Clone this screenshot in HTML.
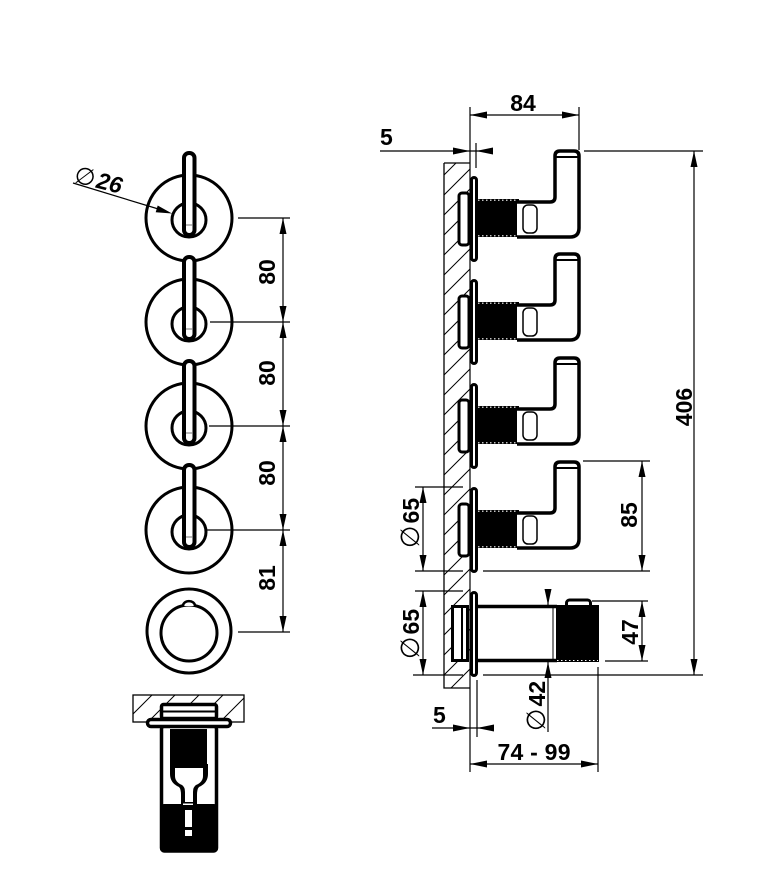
<!DOCTYPE html>
<html><head><meta charset="utf-8">
<style>
html,body{margin:0;padding:0;background:#fff;}
svg{display:block;}
text{font-family:"Liberation Sans",Arial,sans-serif;font-weight:bold;font-size:23px;fill:#000;}
.d{font-family:"DejaVu Sans","Liberation Sans",sans-serif;font-weight:normal;font-size:26px;}
.d2{font-family:"DejaVu Sans","Liberation Sans",sans-serif;font-weight:normal;font-size:24px;}
</style></head><body>
<svg width="773" height="895" viewBox="0 0 773 895" xmlns="http://www.w3.org/2000/svg">
<defs>
<clipPath id="wallR"><rect x="444" y="163" width="26" height="525"/></clipPath>
<clipPath id="wallL"><rect x="133" y="695" width="111" height="27"/></clipPath>
<g id="rose">
<circle cx="189" cy="0" r="43" fill="none" stroke="#000" stroke-width="3"/>
<circle cx="189" cy="2" r="17" fill="none" stroke="#000" stroke-width="3"/>
</g>
<g id="lever">
<rect x="184" y="-65" width="10.5" height="82" rx="5" fill="#fff" stroke="#000" stroke-width="4"/>
<path d="M186,7 H193" stroke="#777" stroke-width="1"/>
</g>
<g id="unit">
<rect x="459" y="-26" width="10" height="52" rx="3" fill="#fff" stroke="#000" stroke-width="3"/>
<rect x="471.5" y="-41.5" width="5" height="83" rx="2.5" fill="#fff" stroke="#000" stroke-width="3"/>
<rect x="478" y="-20" width="41" height="38" fill="#000"/>
<path d="M478,-18.8 H518 M478,16.8 H518" stroke="#fff" stroke-width="1.2" stroke-dasharray="1.5 2.5"/>
<path d="M517,-17 H550 Q555,-17 555,-22 V-63 Q555,-68 560,-68 H574 Q579,-68 579,-63 V9 Q579,18 570,18 H517" fill="#fff" stroke="#000" stroke-width="3.5"/>
<path d="M556,-62 H578" stroke="#000" stroke-width="2"/>
<rect x="523" y="-14" width="14" height="28" rx="5" fill="none" stroke="#000" stroke-width="1.5"/>
</g>
</defs>

<!-- LEFT FRONT VIEW -->
<use href="#rose" y="218"/>
<use href="#rose" y="322"/>
<use href="#rose" y="426"/>
<use href="#rose" y="530"/>
<circle cx="189" cy="631" r="42" fill="none" stroke="#000" stroke-width="3"/>
<circle cx="189" cy="633" r="28" fill="none" stroke="#000" stroke-width="3"/>
<path d="M183,606 C183,599.5 195,599.5 195,606" fill="#fff" stroke="#000" stroke-width="2.5"/>
<use href="#lever" y="218"/>
<use href="#lever" y="322"/>
<use href="#lever" y="426"/>
<use href="#lever" y="530"/>

<!-- left dims -->
<g stroke="#000" stroke-width="1.2" fill="none">
<path d="M283,218 V632 M238,218 H290 M210,322 H290 M209,426 H290 M207,530 H290 M238,632 H290"/>
<path d="M73,183 L160,209.5"/>
</g>
<g fill="#000">
<polygon points="283,218 279.5,234 286.5,234"/>
<polygon points="283,322 279.5,306 286.5,306"/>
<polygon points="283,322 279.5,338 286.5,338"/>
<polygon points="283,426 279.5,410 286.5,410"/>
<polygon points="283,426 279.5,442 286.5,442"/>
<polygon points="283,530 279.5,514 286.5,514"/>
<polygon points="283,530 279.5,546 286.5,546"/>
<polygon points="283,632 279.5,616 286.5,616"/>
<polygon points="172,213.5 157.7,205.5 155.7,212.2"/>
</g>
<text transform="translate(275,272) rotate(-90)" text-anchor="middle">80</text>
<text transform="translate(275,373) rotate(-90)" text-anchor="middle">80</text>
<text transform="translate(275,473) rotate(-90)" text-anchor="middle">80</text>
<text transform="translate(275,578) rotate(-90)" text-anchor="middle">81</text>
<text transform="translate(73,182) rotate(14)" font-style="italic"><tspan class="d2" font-style="normal">∅</tspan><tspan dx="2">26</tspan></text>

<!-- LEFT BOTTOM SECTION -->
<g clip-path="url(#wallL)"><path d="M102,722l27,-27 M125,722l27,-27 M148,722l27,-27 M172,722l27,-27 M196,722l27,-27 M220,722l27,-27 M244,722l27,-27" stroke="#000" stroke-width="1"/></g>
<rect x="133" y="695" width="111" height="27" fill="none" stroke="#000" stroke-width="1.3"/>
<rect x="161.5" y="704.5" width="55" height="14" rx="2" fill="#fff" stroke="#000" stroke-width="3.5"/>
<path d="M162,711.5 H216" stroke="#000" stroke-width="2"/>
<rect x="161.5" y="726" width="55" height="125" rx="3" fill="#fff" stroke="#000" stroke-width="3.5"/>
<rect x="147.5" y="719.5" width="83" height="7" rx="3.5" fill="#fff" stroke="#000" stroke-width="3.5"/>
<rect x="170" y="729" width="37" height="41" fill="#000"/>
<path d="M170,764 H208 V774 Q208,783 199,787 Q197,789 197,795 V806 H181 V795 Q181,789 179,787 Q170,783 170,774 Z" fill="#000"/>
<path d="M175,768 H203 V776 Q203,782 196,785 Q193,787 193,792 V802 H185 V792 Q185,787 182,785 Q175,782 175,776 Z" fill="#fff"/>
<rect x="160" y="804" width="58" height="48" rx="4" fill="#000"/>
<rect x="183" y="803.5" width="10" height="1.5" fill="#fff"/>
<rect x="185" y="810" width="7" height="17" fill="#fff"/>
<rect x="185" y="830" width="7" height="6" fill="#fff"/>

<!-- RIGHT SIDE VIEW: wall -->
<g clip-path="url(#wallR)"><path d="M444,175l26,-26 M444,195l26,-26 M444,215l26,-26 M444,235l26,-26 M444,255l26,-26 M444,275l26,-26 M444,295l26,-26 M444,315l26,-26 M444,335l26,-26 M444,355l26,-26 M444,375l26,-26 M444,395l26,-26 M444,415l26,-26 M444,435l26,-26 M444,455l26,-26 M444,475l26,-26 M444,495l26,-26 M444,515l26,-26 M444,535l26,-26 M444,555l26,-26 M444,575l26,-26 M444,595l26,-26 M444,615l26,-26 M444,635l26,-26 M444,655l26,-26 M444,675l26,-26 M444,695l26,-26 M444,715l26,-26" stroke="#000" stroke-width="1"/></g>
<path d="M444,163 H470 M444,163 V688 H470" fill="none" stroke="#000" stroke-width="1.3"/>

<!-- right dims lines -->
<g stroke="#000" stroke-width="1.2" fill="none">
<path d="M470,107 V772"/>
<path d="M579,107 V150 M470,115 H579"/>
<path d="M380,151 H493 M476,143 V168"/>
<path d="M584,151 H703 M694,151 V675"/>
<path d="M413,675 H463 M483,675 H703"/>
<path d="M583,461 H650 M415,571 H463 M483,571 H650 M642,461 V571"/>
<path d="M415,487 H463 M423,487 V571"/>
<path d="M415,591 H463 M423,591 V675"/>
<path d="M592,601 H648 M605,661 H648 M642,601 V661"/>
<path d="M548,589 V605 M548,662 V732"/>
<path d="M432,728 H494 M477,680 V737"/>
<path d="M470,764 H598 M598,667 V772"/>
</g>

<!-- units -->
<use href="#unit" y="219"/>
<use href="#unit" y="322"/>
<use href="#unit" y="426"/>
<use href="#unit" y="530"/>

<!-- diverter unit -->
<rect x="452.5" y="606.5" width="15" height="54" fill="#fff" stroke="#000" stroke-width="3"/>
<path d="M462,607 V660" stroke="#000" stroke-width="2"/>
<rect x="471.5" y="592.5" width="5" height="83" rx="2.5" fill="#fff" stroke="#000" stroke-width="3"/>
<rect x="478" y="606.5" width="78" height="54" fill="#fff"/>
<path d="M478,606.5 H557 M478,660.5 H557" stroke="#000" stroke-width="3.5"/>
<path d="M553,607 V660" stroke="#000" stroke-width="1"/>
<rect x="566.5" y="600" width="24" height="8" rx="3" fill="#fff" stroke="#000" stroke-width="3"/>
<rect x="556" y="605" width="43" height="57" fill="#000"/>
<path d="M557,660.5 H598" stroke="#fff" stroke-width="1" stroke-dasharray="1.5 2.5"/>

<!-- right arrows -->
<g fill="#000">
<polygon points="470,115 487,111.5 487,118.5"/>
<polygon points="579,115 562,111.5 562,118.5"/>
<polygon points="470,151 453,147.5 453,154.5"/>
<polygon points="476,151 493,147.5 493,154.5"/>
<polygon points="694,151 690.5,167 697.5,167"/>
<polygon points="694,675 690.5,659 697.5,659"/>
<polygon points="642,461 638.5,477 645.5,477"/>
<polygon points="642,571 638.5,555 645.5,555"/>
<polygon points="423,487 419.5,503 426.5,503"/>
<polygon points="423,571 419.5,555 426.5,555"/>
<polygon points="423,591 419.5,607 426.5,607"/>
<polygon points="423,675 419.5,659 426.5,659"/>
<polygon points="642,601 638.5,617 645.5,617"/>
<polygon points="642,661 638.5,645 645.5,645"/>
<polygon points="548,605 544.5,589 551.5,589"/>
<polygon points="548,662 544.5,678 551.5,678"/>
<polygon points="470,728 453,724.5 453,731.5"/>
<polygon points="477,728 494,724.5 494,731.5"/>
<polygon points="470,764 487,760.5 487,767.5"/>
<polygon points="598,764 581,760.5 581,767.5"/>
</g>

<!-- right texts -->
<text x="523" y="111" text-anchor="middle">84</text>
<text x="380" y="145">5</text>
<text x="433" y="723">5</text>
<text x="534" y="760" text-anchor="middle" textLength="73" lengthAdjust="spacing">74 - 99</text>
<text transform="translate(692,407) rotate(-90)" text-anchor="middle">406</text>
<text transform="translate(637,515) rotate(-90)" text-anchor="middle">85</text>
<text transform="translate(638,632) rotate(-90)" text-anchor="middle">47</text>
<text transform="translate(419,523) rotate(-90)" text-anchor="middle"><tspan class="d">∅</tspan><tspan dx="2">65</tspan></text>
<text transform="translate(419,634) rotate(-90)" text-anchor="middle"><tspan class="d">∅</tspan><tspan dx="2">65</tspan></text>
<text transform="translate(545,706) rotate(-90)" text-anchor="middle"><tspan class="d">∅</tspan><tspan dx="2">42</tspan></text>
</svg>
</body></html>
